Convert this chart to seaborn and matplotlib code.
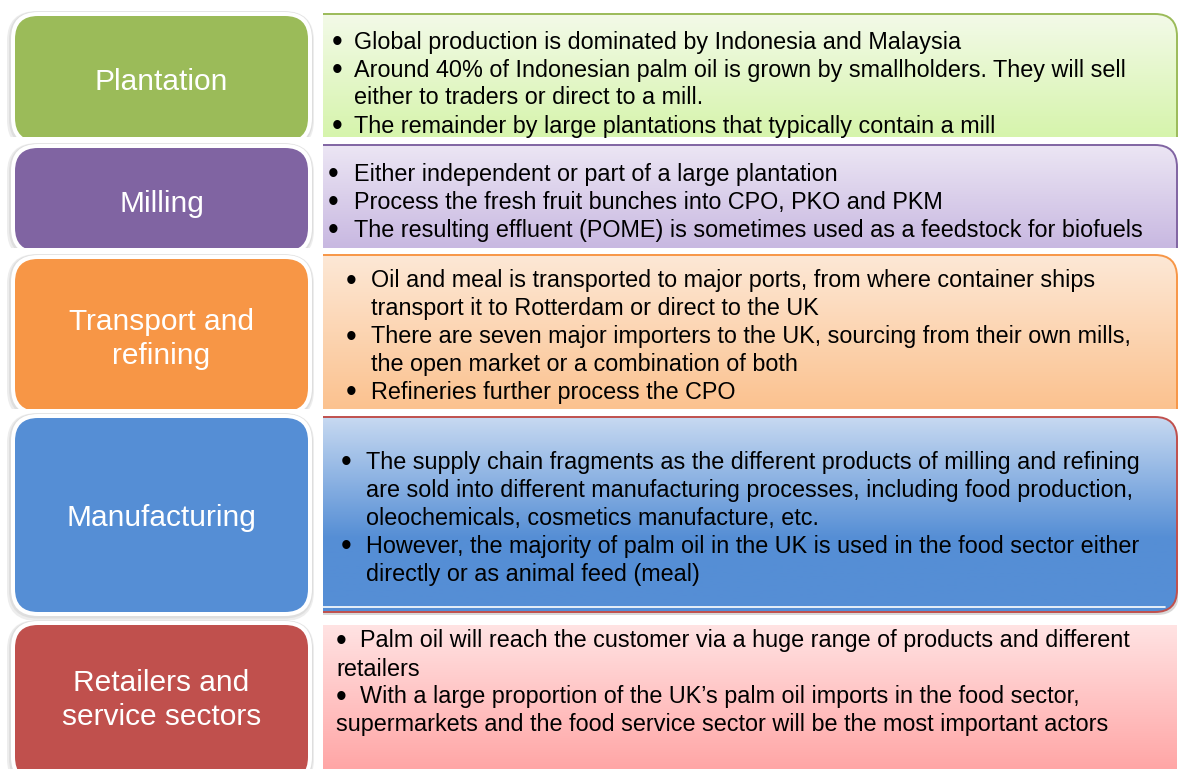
import numpy as np
import matplotlib
matplotlib.use("Agg")
import matplotlib.pyplot as plt
from matplotlib.patches import FancyBboxPatch, Rectangle
from matplotlib.colors import to_rgb
import seaborn as sns

# ---------------- data ----------------
stages = ["Plantation", "Milling", "Transport and\nrefining", "Manufacturing",
          "Retailers and\nservice sectors"]
stage_colors = ["#9BBB59", "#8064A2", "#F79646", "#558ED5", "#C0504D"]
panel_top_colors = ["#F3FAE8", "#ECE6F4", "#FDE8D6", "#C7D9F1", "#FFE3E3"]
panel_bottom_colors = ["#D6F4AC", "#C8B8E1", "#FBC28F", "#558ED5", "#FFA6A6"]
panel_border_colors = ["#9BBB59", "#8064A2", "#F79646", "#C0504D", None]

bullets = [
    [["Global production is dominated by Indonesia and Malaysia"],
     ["Around 40% of Indonesian palm oil is grown by smallholders. They will sell",
      "either to traders or direct to a mill."],
     ["The remainder by large plantations that typically contain a mill"]],
    [["Either independent or part of a large plantation"],
     ["Process the fresh fruit bunches into CPO, PKO and PKM"],
     ["The resulting effluent (POME) is sometimes used as a feedstock for biofuels"]],
    [["Oil and meal is transported to major ports, from where container ships",
      "transport it to Rotterdam or direct to the UK"],
     ["There are seven major importers to the UK, sourcing from their own mills,",
      "the open market or a combination of both"],
     ["Refineries further process the CPO"]],
    [["The supply chain fragments as the different products of milling and refining",
      "are sold into different manufacturing processes, including food production,",
      "oleochemicals, cosmetics manufacture, etc."],
     ["However, the majority of palm oil in the UK is used in the food sector either",
      "directly or as animal feed (meal)"]],
    [["Palm oil will reach the customer via a huge range of products and different",
      "retailers"],
     ["With a large proportion of the UK\u2019s palm oil imports in the food sector,",
      "supermarkets and the food service sector will be the most important actors"]],
]

# ---------------- layout (pixels) ----------------
W, H = 1178, 769
row_clip = [(0, 137), (141, 248), (251, 409), (412, 620), (620, 769)]
box_top = [16, 148, 259, 418, 625]
box_bot = [141, 251, 411, 612, 780]
panel_top = [14, 145, 255, 417, 625]
panel_bot = [170, 280, 440, 612, 820]
label_y = [82, 204, 339, 518, 700]
line_y0 = [42, 174, 281, 462, 641]
line_step = [28, 28, 27.8, 28, 28]
bullet_x = [337, 333, 351, 346, 341]
text_x = [354, 354, 371, 366, 360]
cont_x = [354, 354, 371, 366, 336]
LX0, LX1 = 15, 308
PX0, PX1 = 323, 1177
RND = 23

sns.set_theme(style="white")
plt.rcParams["font.family"] = ["Liberation Sans", "DejaVu Sans"]

fig = plt.figure(figsize=(W / 100, H / 100), dpi=100)
ax = fig.add_axes([0, 0, 1, 1])
ax.set_axis_off()


def grad_img(c_top, c_bot, n=200, mid=None):
    t = np.linspace(0, 1, n)
    a, b = np.array(to_rgb(c_top)), np.array(to_rgb(c_bot))
    if mid is not None:
        t = np.clip(t / mid, 0, 1)
    arr = a[None, :] * (1 - t[:, None]) + b[None, :] * t[:, None]
    return arr[:, None, :]


def clip_rect(x, y0, w, y1):
    return Rectangle((x, y0), w, y1 - y0, transform=ax.transData)


for i in range(len(stages)):
    y0c, y1c = row_clip[i]
    bw, bh = LX1 - LX0, box_bot[i] - box_top[i]

    # left coloured box: soft shadow, white outline, fill
    for pad, dx, dy, col in [(7, -1, 2, "#EDEDED"), (5.5, -0.5, 1, "#DEDEDE"),
                             (4, 0, 0, "white")]:
        p = FancyBboxPatch((LX0 + dx, box_top[i] + dy), bw, bh,
                           boxstyle=f"round,pad={pad},rounding_size={RND + pad}",
                           facecolor=col, edgecolor="none", zorder=1)
        ax.add_patch(p)
        p.set_clip_path(clip_rect(0, y0c, W, y1c))
    box = FancyBboxPatch((LX0, box_top[i]), bw, bh,
                         boxstyle=f"round,pad=0,rounding_size={RND}",
                         facecolor=stage_colors[i], edgecolor="none", zorder=2)
    ax.add_patch(box)
    box.set_clip_path(clip_rect(0, y0c, W, y1c))
    ax.text((LX0 + LX1) / 2, label_y[i], stages[i], color="white", fontsize=21.5,
            ha="center", va="center", linespacing=1.25, zorder=5)

    # right panel with gradient
    rs = 0 if panel_border_colors[i] is None else 22
    panel = FancyBboxPatch((PX0 - 40, panel_top[i]), PX1 - PX0 + 40,
                           panel_bot[i] - panel_top[i],
                           boxstyle=f"round,pad=0,rounding_size={rs}",
                           facecolor="none",
                           edgecolor=panel_border_colors[i] or "none",
                           lw=1.4, zorder=4)
    if i == 3:
        sh = FancyBboxPatch((PX0 - 40, panel_top[i] + 3), PX1 - PX0 + 42,
                            panel_bot[i] - panel_top[i],
                            boxstyle=f"round,pad=0,rounding_size={rs}",
                            facecolor="#BFBFBF", edgecolor="none", alpha=0.6, zorder=2)
        ax.add_patch(sh)
        sh.set_clip_path(clip_rect(PX0, y0c, W - PX0, y1c))
    ax.add_patch(panel)
    panel.set_clip_path(clip_rect(PX0, y0c, W - PX0, y1c))
    g_bot = min(panel_bot[i], y1c)
    img = grad_img(panel_top_colors[i], panel_bottom_colors[i],
                   mid=0.62 if i == 3 else None)
    im = ax.imshow(img, extent=[PX0, PX1 + 1, g_bot, panel_top[i]],
                   aspect="auto", origin="upper", zorder=3, interpolation="bilinear")
    im.set_clip_path(panel)

    if i == 3:
        ax.plot([PX0, PX1 - 12], [panel_bot[i] - 5, panel_bot[i] - 5],
                color="white", lw=1.2, zorder=4.5)

    # bullet text
    k = 0
    for item in bullets[i]:
        for j, line in enumerate(item):
            y = line_y0[i] + k * line_step[i]
            if j == 0:
                ax.text(bullet_x[i], y + 1, "\u2022", fontsize=22, ha="center",
                        va="center", color="black", zorder=6)
                ax.text(text_x[i], y, line, fontsize=16.8, ha="left",
                        va="center", color="black", zorder=6)
            else:
                ax.text(cont_x[i], y, line, fontsize=16.8, ha="left",
                        va="center", color="black", zorder=6)
            k += 1

ax.set_xlim(0, W)
ax.set_ylim(H, 0)
fig.savefig("out.png", dpi=100, facecolor="white")
